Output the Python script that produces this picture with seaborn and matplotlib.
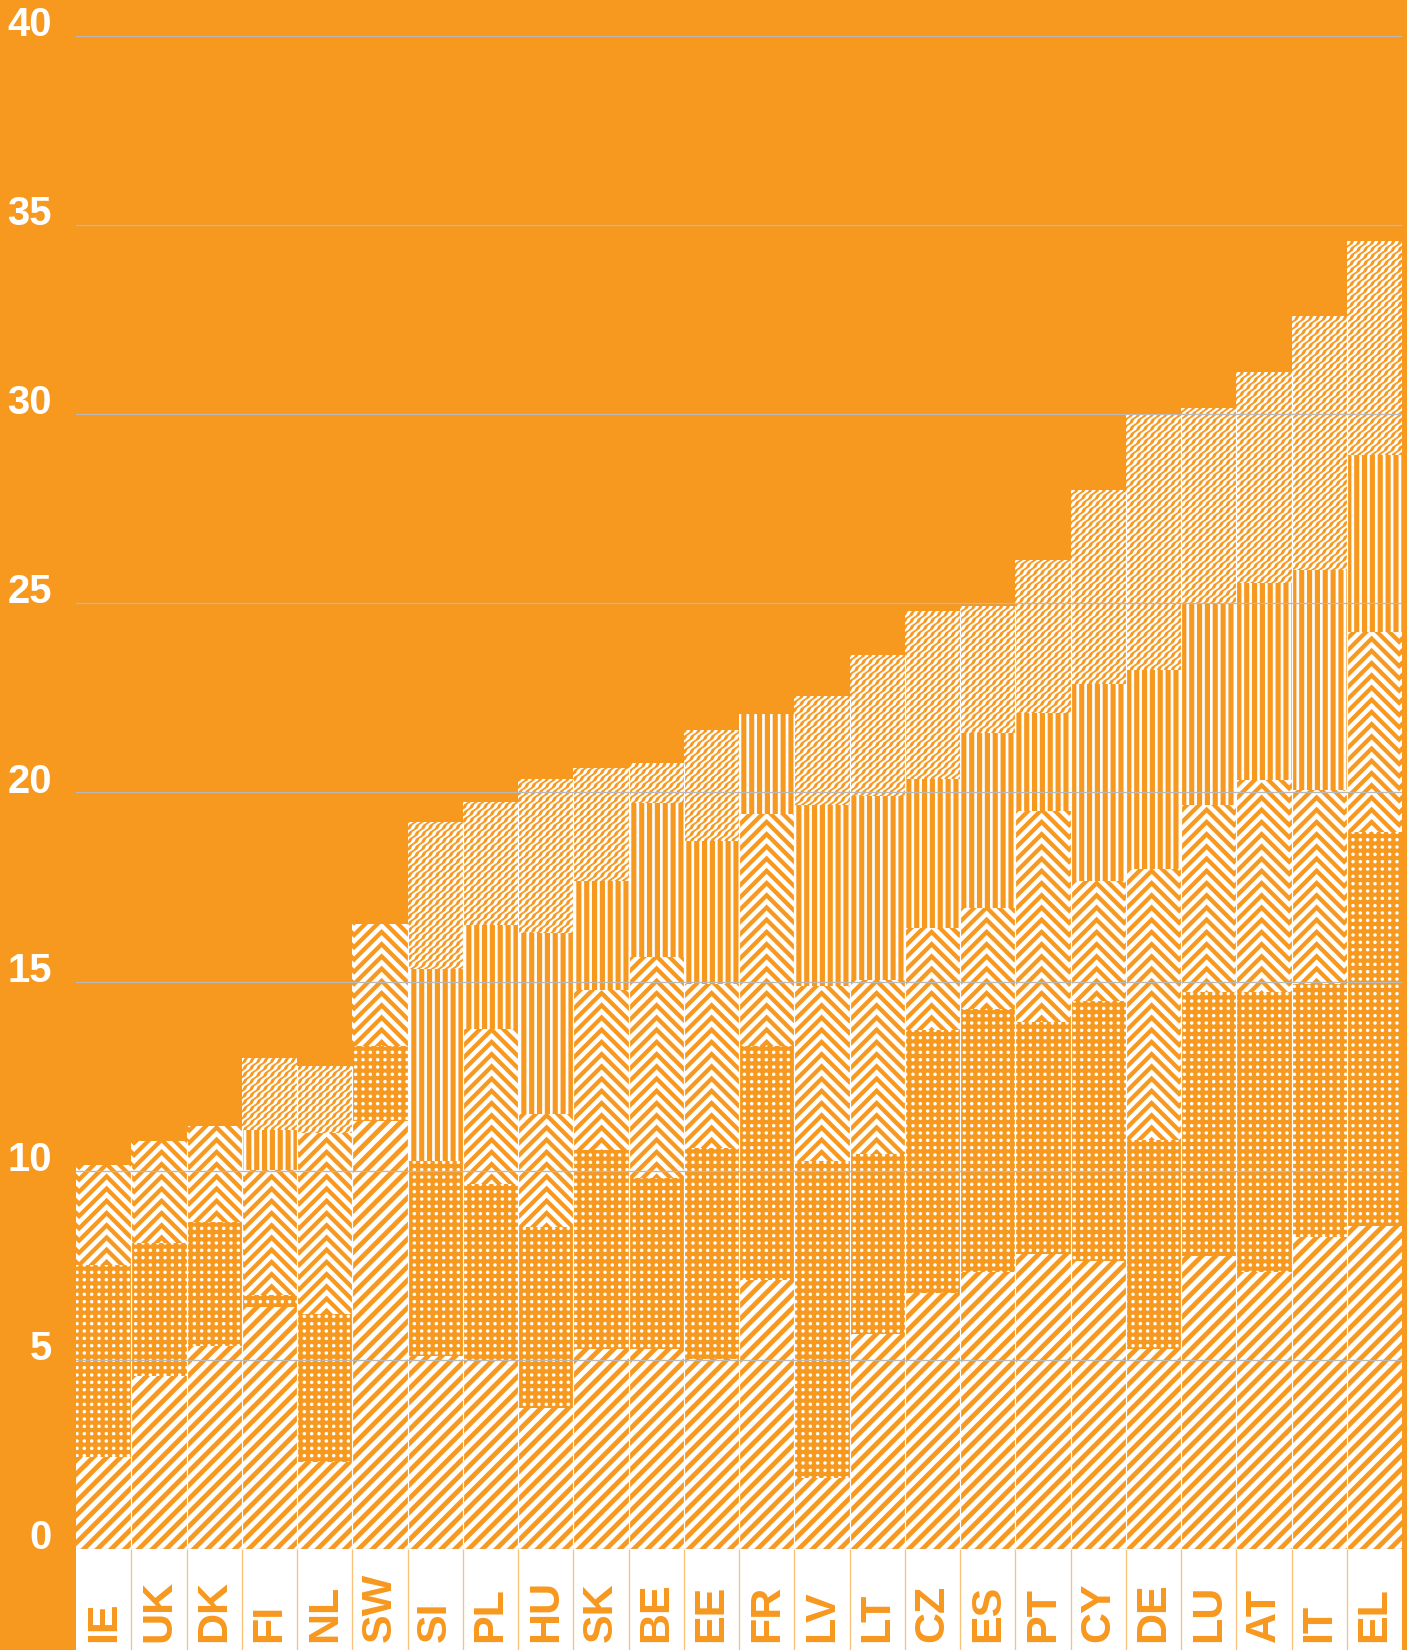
import warnings
warnings.filterwarnings("ignore")

import numpy as np
import pandas as pd
import matplotlib
matplotlib.use("Agg")
import matplotlib.pyplot as plt
import matplotlib.hatch as mhatch
from matplotlib.path import Path
import seaborn as sns

# ---------------- data (segment sizes, bottom layer first) ----------------
countries = ["IE", "UK", "DK", "FI", "NL", "SW", "SI", "PL", "HU", "SK", "BE", "EE",
             "FR", "LV", "LT", "CZ", "ES", "PT", "CY", "DE", "LU", "AT", "IT", "EL"]
layer_stripes = [2.43, 4.57, 5.38, 6.40, 2.31, 11.32, 5.10, 4.96, 3.74, 5.30, 5.30, 5.02,
                 7.11, 1.87, 5.69, 6.77, 7.33, 7.80, 7.61, 5.30, 7.75, 7.33, 8.25, 8.53]
layer_dots = [5.08, 3.51, 3.26, 0.32, 3.91, 1.98, 5.16, 4.68, 4.76, 5.26, 4.51, 5.57,
              6.19, 8.39, 4.76, 6.94, 6.94, 6.14, 6.88, 5.52, 6.97, 7.39, 6.69, 10.42]
layer_chevron = [2.64, 2.71, 2.54, 3.30, 4.79, 3.23, 0.00, 4.10, 3.01, 4.21, 5.85, 4.35,
                 6.13, 4.62, 4.60, 2.71, 2.68, 5.57, 3.18, 7.16, 4.96, 5.60, 5.13, 5.30]
layer_vertical = [0.00, 0.00, 0.00, 1.06, 0.00, 0.00, 5.07, 2.76, 4.77, 2.90, 4.05, 3.79,
                  2.65, 4.80, 4.85, 3.93, 4.63, 2.59, 5.19, 5.27, 5.30, 5.21, 5.80, 4.68]
layer_zigzag = [0.00, 0.00, 0.00, 1.90, 1.76, 0.00, 3.88, 3.24, 4.07, 2.99, 1.08, 2.93,
                0.00, 2.87, 3.74, 4.46, 3.34, 4.05, 5.15, 6.74, 5.18, 5.58, 6.74, 5.66]
y_ticks = [0, 5, 10, 15, 20, 25, 30, 35, 40]

# ---------------- layout / style ----------------
ORANGE = "#F7981F"
W, H = 1407, 1650
DPI = 110.5                   # hatch tile = int(DPI) px = two bar widths
TILE = int(DPI)
AX_L, AX_R, AX_T, AX_B = 76, 1402, 36, 1549   # pixel box of the plot
N = len(countries)
BARW = (AX_R - AX_L) / N
CHEV_PHASE = ((AX_L + BARW * (N // 2 + 0.5)) % TILE) / TILE


def px2pt(px):
    return px * 72.0 / DPI


# ---------------- custom hatch patterns (filled polygons in the unit tile) ----------------
class _PolyHatch(mhatch.HatchPatternBase):
    key = "?"

    def __init__(self, hatch, density):
        self.polys = self.build() if (hatch and self.key in hatch) else []
        self.num_vertices = sum(len(p) + 1 for p in self.polys)

    def build(self):
        return []

    def set_vertices_and_codes(self, vertices, codes):
        i = 0
        for p in self.polys:
            p = np.asarray(p, dtype=float)
            n = len(p)
            vertices[i:i + n] = p
            vertices[i + n] = p[0]
            codes[i] = Path.MOVETO
            codes[i + 1:i + n] = Path.LINETO
            codes[i + n] = Path.CLOSEPOLY
            i += n + 1


class DiagHatch(_PolyHatch):          # bold "/" stripes
    key = "A"

    def build(self):
        n = 8
        w = 0.5 / n
        polys = []
        for k in range(-12, 12):
            c = k / n
            polys.append([(c - 0.2, -0.2), (c + w - 0.2, -0.2),
                          (c + w + 1.2, 1.2), (c + 1.2, 1.2)])
        return polys


class DotHatch(_PolyHatch):           # grid of dots
    key = "B"

    def build(self):
        n = 15
        r = 0.24 / n
        ang = np.linspace(0, 2 * np.pi, 12, endpoint=False)
        circ = np.column_stack([np.cos(ang), np.sin(ang)]) * r
        return [circ + [(i + 0.5) / n, (j + 0.5) / n] for i in range(n) for j in range(n)]


class ChevronHatch(_PolyHatch):       # one chevron per bar width
    key = "C"

    def build(self):
        n = 9
        t = 0.5 / n
        h = 0.25
        polys = []
        for m in range(-4, 5):
            xc = CHEV_PHASE + 0.5 * m
            if xc + h < 0 or xc - h > 1:
                continue
            for k in range(-3, 14):
                c = k / n
                polys.append([(xc - h, c - h), (xc, c), (xc + h, c - h),
                              (xc + h, c - h + t), (xc, c + t), (xc - h, c - h + t)])
        return polys


class VertHatch(_PolyHatch):          # vertical lines
    key = "D"

    def build(self):
        n = 14
        w = 0.34 / n
        return [[(k / n, -0.1), (k / n + w, -0.1), (k / n + w, 1.1), (k / n, 1.1)]
                for k in range(n)]


class ZigHatch(_PolyHatch):           # fine diagonal zigzag
    key = "E"

    def build(self):
        n = 16
        P = 1.0 / n
        q = 1.0 / 16
        a = 0.25 * P
        w = 0.5 * P
        ys = np.arange(-0.25, 1.25 + 1e-9, q / 2)
        idx = np.round((ys + 0.25) / (q / 2)).astype(int)
        zs = np.where(idx % 2 == 0, 0.0, a)
        polys = []
        for k in range(-22, 20):
            c = k * P
            left = np.column_stack([c + ys + zs, ys])
            right = np.column_stack([c + ys + zs + w, ys])
            polys.append(np.vstack([left, right[::-1]]))
        return polys


mhatch._hatch_types.extend([DiagHatch, DotHatch, ChevronHatch, VertHatch, ZigHatch])
HATCHES = ["A", "B", "C", "D", "E"]

# ---------------- figure ----------------
plt.rcParams["font.family"] = ["Liberation Sans", "DejaVu Sans"]
plt.rcParams["hatch.linewidth"] = 0.05
plt.rcParams["hatch.color"] = "white"

fig = plt.figure(figsize=((W + 1e-6) / DPI, (H + 1e-6) / DPI), dpi=DPI, facecolor=ORANGE)
ax = fig.add_axes([AX_L / W, (H - AX_B) / H, (AX_R - AX_L) / W, (AX_B - AX_T) / H])
ax.set_facecolor(ORANGE)

layers = [layer_stripes, layer_dots, layer_chevron, layer_vertical, layer_zigzag]
cum = np.cumsum(np.array(layers, dtype=float), axis=0)

df = pd.DataFrame({"country": countries})
for L in reversed(range(len(layers))):
    df["value"] = cum[L]
    n0 = len(ax.patches)
    sns.barplot(data=df, x="country", y="value", order=countries, color=ORANGE,
                saturation=1, width=1, errorbar=None, ax=ax)
    for p in ax.patches[n0:]:
        p.set_facecolor(ORANGE)
        p.set_edgecolor("white")
        p.set_linewidth(0)
        p.set_hatch(HATCHES[L])

# thin white seams between neighbouring bars
totals = cum[-1]
seam_x = np.arange(1, N) - 0.5
seam_top = np.minimum(totals[:-1], totals[1:])
ax.vlines(seam_x, 0, seam_top, color="white", linewidth=px2pt(1.2), zorder=2)

ax.set_xlim(-0.5, N - 0.5)
ax.set_ylim(0, 40)
ax.set_xlabel("")
ax.set_ylabel("")
for s in ax.spines.values():
    s.set_visible(False)
ax.set_yticks(y_ticks)
ax.set_yticklabels([str(v) for v in y_ticks])
ax.set_axisbelow(False)
ax.yaxis.grid(True, color="#b9b9b9", linewidth=px2pt(1.3))
ax.xaxis.grid(False)
ax.tick_params(axis="x", bottom=False, labelbottom=False)
ax.tick_params(axis="y", length=0, pad=px2pt(24), labelcolor="white", labelsize=px2pt(40))
for t in ax.get_yticklabels():
    t.set_fontweight("bold")
    t.set_verticalalignment("baseline")

# label strip
lab = fig.add_axes([AX_L / W, 0, (AX_R - AX_L) / W, (H - AX_B) / H], sharex=ax)
lab.set_facecolor("white")
lab.set_ylim(0, 1)
for s in lab.spines.values():
    s.set_visible(False)
lab.tick_params(left=False, bottom=False, labelleft=False, labelbottom=False)
lab.vlines(seam_x, 0, 1, color=ORANGE, alpha=0.6, linewidth=px2pt(1.3))
for i, c in enumerate(countries):
    lab.text(i, 8 / (H - AX_B), c, rotation=90, ha="center", va="bottom",
             color=ORANGE, fontsize=px2pt(43), fontweight="bold")

fig.savefig("out.png", dpi=DPI, facecolor=ORANGE)
